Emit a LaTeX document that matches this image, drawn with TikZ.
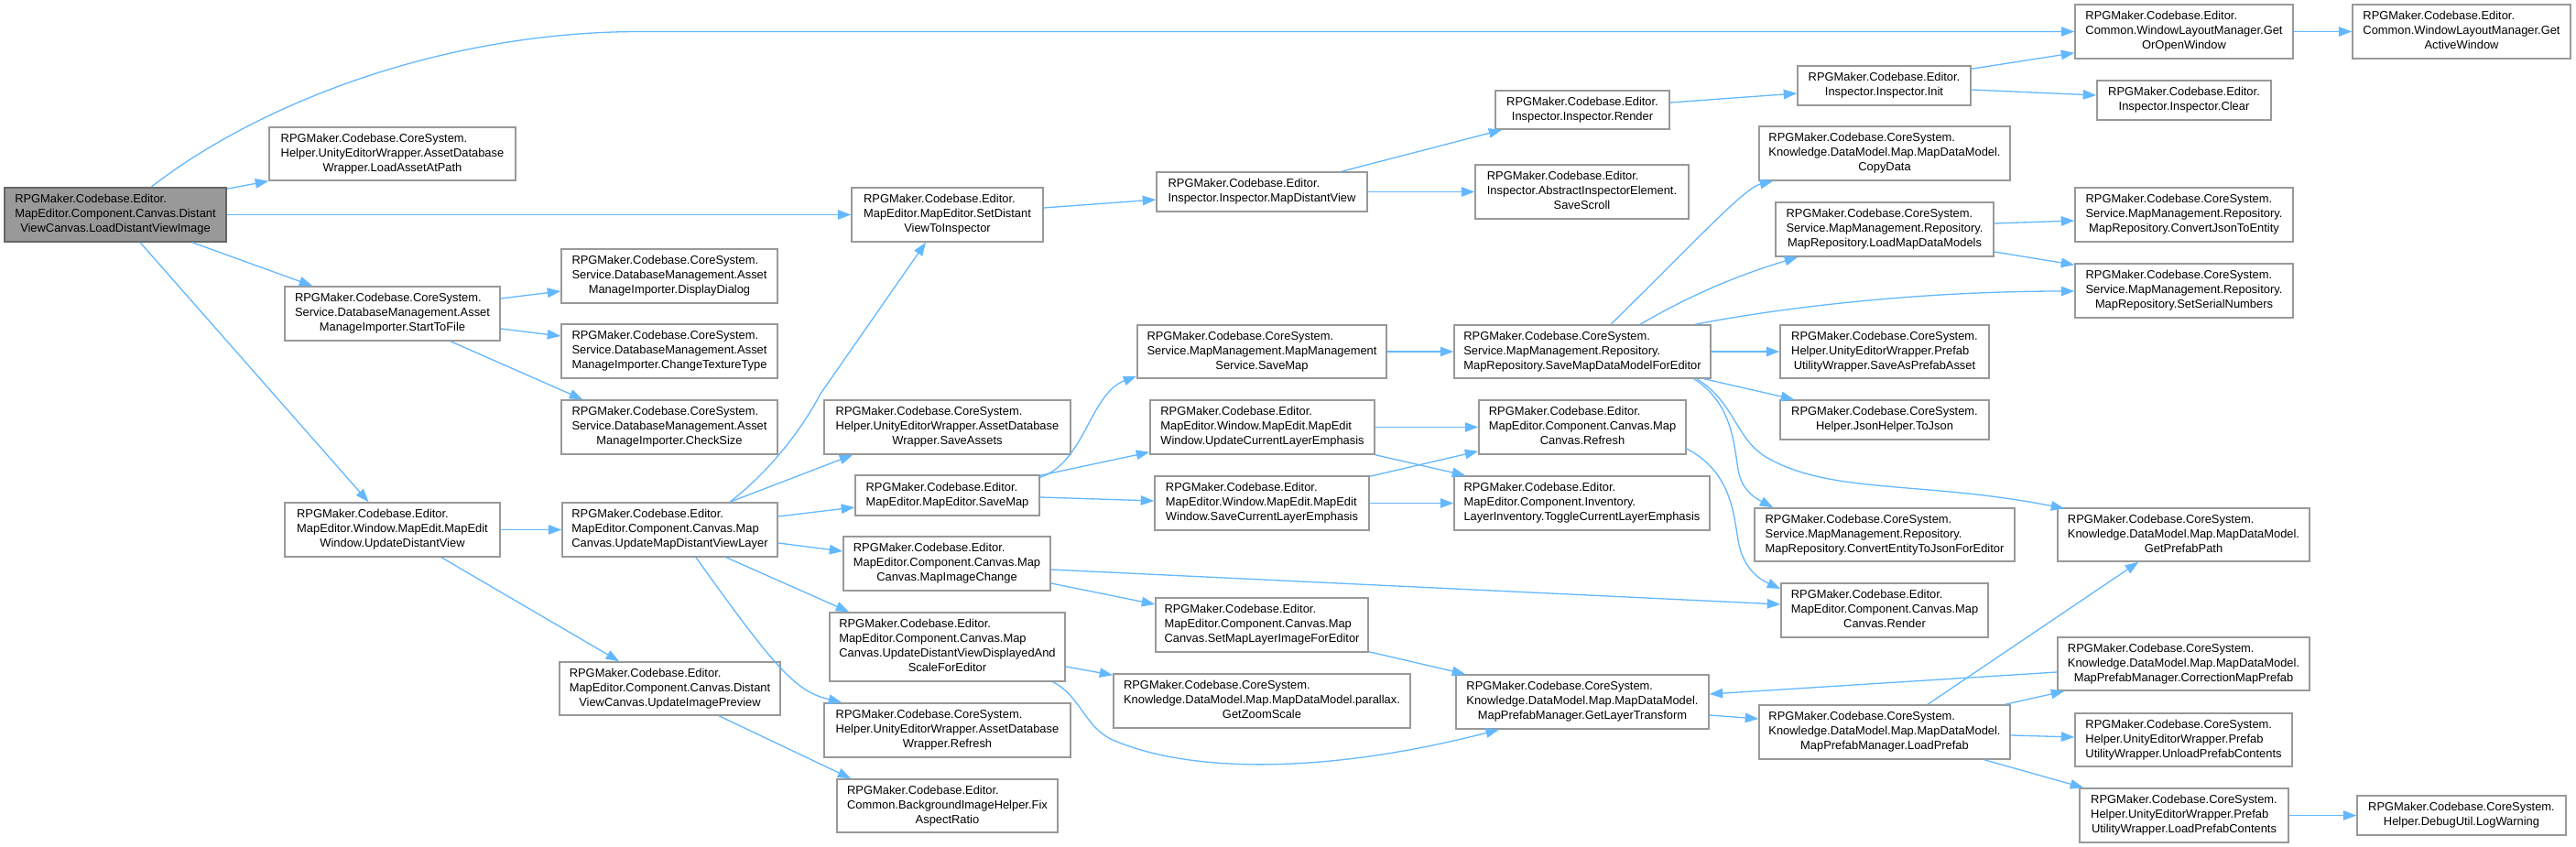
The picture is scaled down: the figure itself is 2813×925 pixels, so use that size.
\documentclass[tikz,border=0pt]{standalone}
\usepackage{fontspec}
\setmainfont{Liberation Sans}
\usetikzlibrary{arrows.meta,calc}
\definecolor{edgeblue}{HTML}{63B8FF}
\definecolor{boxgray}{HTML}{999999}
\definecolor{rootgray}{HTML}{999999}
\definecolor{rootborder}{HTML}{666666}
\newcommand{\lb}[2]{\begin{tabular}{@{}l@{}}#1\\\multicolumn{1}{@{}c@{}}{#2}\end{tabular}}
\newcommand{\bx}[7][box]{\node[#1, minimum width=#5pt, minimum height=#6pt] (#2) at (#3,#4) {#7};}
\tikzset{
  box/.style={draw=boxgray, fill=white, line width=1.5pt, inner sep=0pt, font=\fontsize{12.9}{16}\selectfont},
  rootbox/.style={box, draw=rootborder, fill=rootgray},
  edge/.style={draw=edgeblue, line width=1.3pt, -{Triangle[length=14.5pt,width=10.5pt]}}
}
\begin{document}
\begin{tikzpicture}[x=1pt,y=-1pt]
\fill[white] (0,0) rectangle (2813,925);
\useasboundingbox (0,0) rectangle (2813,925);
% column 1
\bx[rootbox]{root}{126}{234.5}{242}{59}{\lb{RPGMaker.Codebase.Editor.\\MapEditor.Component.Canvas.Distant}{ViewCanvas.LoadDistantViewImage}}
% column 2
\bx{laap}{428.5}{168}{269}{58}{\lb{RPGMaker.Codebase.CoreSystem.\\Helper.UnityEditorWrapper.AssetDatabase}{Wrapper.LoadAssetAtPath}}
\bx{stf}{428.5}{342.5}{235}{59}{\lb{RPGMaker.Codebase.CoreSystem.\\Service.DatabaseManagement.Asset}{ManageImporter.StartToFile}}
\bx{udv}{428.5}{578.5}{235}{59}{\lb{RPGMaker.Codebase.Editor.\\MapEditor.Window.MapEdit.MapEdit}{Window.UpdateDistantView}}
% column 3
\bx{dd}{731}{301.5}{236}{59}{\lb{RPGMaker.Codebase.CoreSystem.\\Service.DatabaseManagement.Asset}{ManageImporter.DisplayDialog}}
\bx{ctt}{731}{383.5}{236}{59}{\lb{RPGMaker.Codebase.CoreSystem.\\Service.DatabaseManagement.Asset}{ManageImporter.ChangeTextureType}}
\bx{cs}{731}{466.5}{236}{59}{\lb{RPGMaker.Codebase.CoreSystem.\\Service.DatabaseManagement.Asset}{ManageImporter.CheckSize}}
\bx{umdvl}{731.5}{578.5}{235}{59}{\lb{RPGMaker.Codebase.Editor.\\MapEditor.Component.Canvas.Map}{Canvas.UpdateMapDistantViewLayer}}
\bx{uip}{731.5}{752}{241}{58}{\lb{RPGMaker.Codebase.Editor.\\MapEditor.Component.Canvas.Distant}{ViewCanvas.UpdateImagePreview}}
% column 4
\bx{sdti}{1034.5}{234.5}{209}{59}{\lb{RPGMaker.Codebase.Editor.\\MapEditor.MapEditor.SetDistant}{ViewToInspector}}
\bx{sa}{1034.5}{466.5}{269}{59}{\lb{RPGMaker.Codebase.CoreSystem.\\Helper.UnityEditorWrapper.AssetDatabase}{Wrapper.SaveAssets}}
\bx{smap}{1034.5}{541}{201}{44}{\lb{RPGMaker.Codebase.Editor.}{MapEditor.MapEditor.SaveMap}}
\bx{mic}{1034}{615.5}{226}{59}{\lb{RPGMaker.Codebase.Editor.\\MapEditor.Component.Canvas.Map}{Canvas.MapImageChange}}
\bx{udvdas}{1034.5}{706.5}{257}{75}{\lb{RPGMaker.Codebase.Editor.\\MapEditor.Component.Canvas.Map\\Canvas.UpdateDistantViewDisplayedAnd}{ScaleForEditor}}
\bx{rfadw}{1034.5}{797.5}{269}{59}{\lb{RPGMaker.Codebase.CoreSystem.\\Helper.UnityEditorWrapper.AssetDatabase}{Wrapper.Refresh}}
\bx{far}{1034.5}{880}{241}{58}{\lb{RPGMaker.Codebase.Editor.\\Common.BackgroundImageHelper.Fix}{AspectRatio}}
% column 5
\bx{mdv}{1378}{209.5}{230}{43}{\lb{RPGMaker.Codebase.Editor.}{Inspector.Inspector.MapDistantView}}
\bx{mms}{1378}{384}{272}{58}{\lb{RPGMaker.Codebase.CoreSystem.\\Service.MapManagement.MapManagement}{Service.SaveMap}}
\bx{ucle}{1378.5}{466.5}{245}{59}{\lb{RPGMaker.Codebase.Editor.\\MapEditor.Window.MapEdit.MapEdit}{Window.UpdateCurrentLayerEmphasis}}
\bx{scle}{1378}{549.5}{234}{59}{\lb{RPGMaker.Codebase.Editor.\\MapEditor.Window.MapEdit.MapEdit}{Window.SaveCurrentLayerEmphasis}}
\bx{smli}{1378}{682.5}{232}{59}{\lb{RPGMaker.Codebase.Editor.\\MapEditor.Component.Canvas.Map}{Canvas.SetMapLayerImageForEditor}}
\bx{gzs}{1378}{765.5}{324}{59}{\lb{RPGMaker.Codebase.CoreSystem.\\Knowledge.DataModel.Map.MapDataModel.parallax.}{GetZoomScale}}
% column 6
\bx{irender}{1728}{120}{190}{42}{\lb{RPGMaker.Codebase.Editor.}{Inspector.Inspector.Render}}
\bx{sscroll}{1727.5}{209.5}{233}{59}{\lb{RPGMaker.Codebase.Editor.\\Inspector.AbstractInspectorElement.}{SaveScroll}}
\bx{smdm}{1728}{384}{280}{58}{\lb{RPGMaker.Codebase.CoreSystem.\\Service.MapManagement.Repository.}{MapRepository.SaveMapDataModelForEditor}}
\bx{mcref}{1728}{466.5}{226}{59}{\lb{RPGMaker.Codebase.Editor.\\MapEditor.Component.Canvas.Map}{Canvas.Refresh}}
\bx{tog}{1727.5}{549.5}{279}{59}{\lb{RPGMaker.Codebase.Editor.\\MapEditor.Component.Inventory.}{LayerInventory.ToggleCurrentLayerEmphasis}}
\bx{glt}{1728}{766.5}{276}{59}{\lb{RPGMaker.Codebase.CoreSystem.\\Knowledge.DataModel.Map.MapDataModel.}{MapPrefabManager.GetLayerTransform}}
% column 7
\bx{init}{2057.5}{93.5}{189}{43}{\lb{RPGMaker.Codebase.Editor.}{Inspector.Inspector.Init}}
\bx{copyd}{2058}{167.5}{274}{59}{\lb{RPGMaker.Codebase.CoreSystem.\\Knowledge.DataModel.Map.MapDataModel.}{CopyData}}
\bx{lmdm}{2058}{250.5}{238}{59}{\lb{RPGMaker.Codebase.CoreSystem.\\Service.MapManagement.Repository.}{MapRepository.LoadMapDataModels}}
\bx{sapa}{2058}{384}{228}{58}{\lb{RPGMaker.Codebase.CoreSystem.\\Helper.UnityEditorWrapper.Prefab}{UtilityWrapper.SaveAsPrefabAsset}}
\bx{tojson}{2058}{458.5}{228}{43}{\lb{RPGMaker.Codebase.CoreSystem.}{Helper.JsonHelper.ToJson}}
\bx{cetj}{2058}{584}{284}{58}{\lb{RPGMaker.Codebase.CoreSystem.\\Service.MapManagement.Repository.}{MapRepository.ConvertEntityToJsonForEditor}}
\bx{mcrender}{2058}{666.5}{226}{59}{\lb{RPGMaker.Codebase.Editor.\\MapEditor.Component.Canvas.Map}{Canvas.Render}}
\bx{loadp}{2058}{799.5}{274}{59}{\lb{RPGMaker.Codebase.CoreSystem.\\Knowledge.DataModel.Map.MapDataModel.}{MapPrefabManager.LoadPrefab}}
% column 8
\bx{goow}{2385}{34.5}{238}{59}{\lb{RPGMaker.Codebase.Editor.\\Common.WindowLayoutManager.Get}{OrOpenWindow}}
\bx{clear}{2385}{109.5}{190}{43}{\lb{RPGMaker.Codebase.Editor.}{Inspector.Inspector.Clear}}
\bx{cjte}{2385}{234.5}{238}{59}{\lb{RPGMaker.Codebase.CoreSystem.\\Service.MapManagement.Repository.}{MapRepository.ConvertJsonToEntity}}
\bx{ssn}{2385}{317.5}{238}{59}{\lb{RPGMaker.Codebase.CoreSystem.\\Service.MapManagement.Repository.}{MapRepository.SetSerialNumbers}}
\bx{gpp}{2384.5}{584}{275}{58}{\lb{RPGMaker.Codebase.CoreSystem.\\Knowledge.DataModel.Map.MapDataModel.}{GetPrefabPath}}
\bx{cmp}{2384.5}{725}{275}{58}{\lb{RPGMaker.Codebase.CoreSystem.\\Knowledge.DataModel.Map.MapDataModel.}{MapPrefabManager.CorrectionMapPrefab}}
\bx{unload}{2384.5}{808}{237}{58}{\lb{RPGMaker.Codebase.CoreSystem.\\Helper.UnityEditorWrapper.Prefab}{UtilityWrapper.UnloadPrefabContents}}
\bx{lpc}{2385}{890.5}{228}{59}{\lb{RPGMaker.Codebase.CoreSystem.\\Helper.UnityEditorWrapper.Prefab}{UtilityWrapper.LoadPrefabContents}}
% column 9
\bx{gaw}{2688}{34.5}{238}{59}{\lb{RPGMaker.Codebase.Editor.\\Common.WindowLayoutManager.Get}{ActiveWindow}}
\bx{logw}{2688}{890.5}{228}{43}{\lb{RPGMaker.Codebase.CoreSystem.}{Helper.DebugUtil.LogWarning}}
% edges
\begin{scope}[every path/.style={edge}]
\draw ($(root.north)+(39,0)$) .. controls (280,115) and (480,34.5) .. (700,34.5) -- (goow.west);
\draw ($(root.north east)+(0,2)$) -- (laap.south west);
\draw (root.east) -- (sdti.west);
\draw ($(root.south)+(84,0)$) -- ($(stf.north west)+(31,0)$);
\draw ($(root.south)+(27,0)$) -- ($(udv.north)+(-26,0)$);
\draw ($(stf.east)+(0,-16.5)$) -- ($(dd.west)+(0,16.5)$);
\draw ($(stf.east)+(0,16.5)$) -- ($(ctt.west)+(0,-16.5)$);
\draw ($(stf.south)+(63.5,0)$) -- ($(cs.north west)+(24,0)$);
\draw (udv.east) -- (umdvl.west);
\draw ($(udv.south)+(53.5,0)$) -- ($(uip.north west)+(66,0)$);
\draw ($(sdti.east)+(0,-7.5)$) -- ($(mdv.west)+(0,8.5)$);
\draw ($(mdv.north)+(87,0)$) -- ($(irender.south west)+(8,0)$);
\draw (mdv.east) -- (sscroll.west);
\draw ($(irender.east)+(0,-8)$) -- ($(init.west)+(0,8.5)$);
\draw ($(init.north east)+(0,4)$) -- ($(goow.south west)+(0,-7)$);
\draw ($(init.east)+(0,4.5)$) -- ($(clear.west)+(0,-5.5)$);
\draw (goow.east) -- (gaw.west);
\draw ($(umdvl.north)+(65.5,0)$) .. controls (840,515) and (875,470) .. (896,430) -- ($(sdti.south)+(-23.5,0)$);
\draw ($(umdvl.north)+(65.5,0)$) -- ($(sa.south west)+(32,0)$);
\draw ($(umdvl.east)+(0,-14.5)$) -- ($(smap.west)+(0,13)$);
\draw ($(umdvl.east)+(0,14.5)$) -- ($(mic.west)+(0,-13.5)$);
\draw ($(umdvl.south)+(61.5,0)$) -- ($(udvdas.north west)+(22,0)$);
\draw ($(umdvl.south)+(28.5,0)$) .. controls (850,735) and (870,755) .. ($(rfadw.north west)+(20,0)$);
\draw ($(uip.south)+(53.5,0)$) -- ($(far.north west)+(16,0)$);
\draw ($(smap.north east)+(0,3)$) .. controls (1185,505) and (1190,430) .. ($(mms.south west)+(0,-3)$);
\draw ($(smap.north east)+(0,1)$) -- ($(ucle.south west)+(0,-3)$);
\draw ($(smap.east)+(0,2)$) -- ($(scle.west)+(0,-2.5)$);
\draw (mms.east) -- (smdm.west);
\draw (ucle.east) -- (mcref.west);
\draw (ucle.south east) -- ($(tog.north west)+(13,0)$);
\draw ($(scle.north east)+(0,1)$) -- ($(mcref.south west)+(0,-4)$);
\draw (scle.east) -- (tog.west);
\draw ($(mic.east)+(0,6.5)$) -- ($(mcrender.west)+(0,-6.5)$);
\draw ($(mic.east)+(0,21.5)$) -- ($(smli.west)+(0,-22.5)$);
\draw ($(udvdas.east)+(0,21.5)$) -- ($(gzs.north west)+(0,2)$);
\draw ($(udvdas.south east)+(-14,0)$) .. controls (1180,760) and (1185,795) .. (1215,808) .. controls (1300,845) and (1450,845) .. ($(glt.south)+(-91,0)$);
\draw ($(smli.south east)+(0,-1)$) -- ($(glt.north west)+(11,0)$);
\draw ($(smdm.north)+(31,0)$) .. controls (1850,265) and (1905,205) .. ($(copyd.south west)+(16,0)$);
\draw ($(smdm.north)+(63,0)$) .. controls (1850,320) and (1900,300) .. ($(lmdm.south west)+(25,0)$);
\draw ($(smdm.north)+(123,0)$) .. controls (1950,335) and (2100,318) .. ($(ssn.west)+(0,0.5)$);
\draw ($(lmdm.east)+(0,-6.5)$) -- ($(cjte.west)+(0,6.5)$);
\draw ($(lmdm.east)+(0,24.5)$) -- ($(ssn.north west)+(0,2)$);
\draw (smdm.east) -- (sapa.west);
\draw ($(smdm.south east)+(-8,0)$) -- ($(tojson.north west)+(16,0)$);
\draw ($(smdm.south)+(122,0)$) .. controls (1890,440) and (1893,480) .. (1898,513) .. controls (1902,535) and (1915,543) .. ($(cetj.north west)+(21,0)$);
\draw ($(smdm.south)+(125,0)$) .. controls (1895,440) and (1895,480) .. (1930,500) .. controls (2000,540) and (2100,525) .. ($(gpp.north west)+(8,1)$);
\draw ($(mcref.east)+(0,23.5)$) .. controls (1890,515) and (1893,560) .. (1898,590) .. controls (1903,620) and (1920,632) .. ($(mcrender.west)+(0,-23.5)$);
\draw ($(cmp.west)+(0,9)$) -- ($(glt.east)+(0,-8.5)$);
\draw ($(glt.east)+(0,14.5)$) -- ($(loadp.west)+(0,-14.5)$);
\draw ($(loadp.north)+(47,0)$) -- ($(gpp.south west)+(89,0)$);
\draw ($(loadp.north east)+(-6,0)$) -- ($(cmp.south west)+(8,0)$);
\draw ($(loadp.east)+(0,3.5)$) -- ($(unload.west)+(0,-3)$);
\draw ($(loadp.south east)+(-29,0)$) -- ($(lpc.north west)+(5,0)$);
\draw (lpc.east) -- (logw.west);
\end{scope}
\end{tikzpicture}
\end{document}
